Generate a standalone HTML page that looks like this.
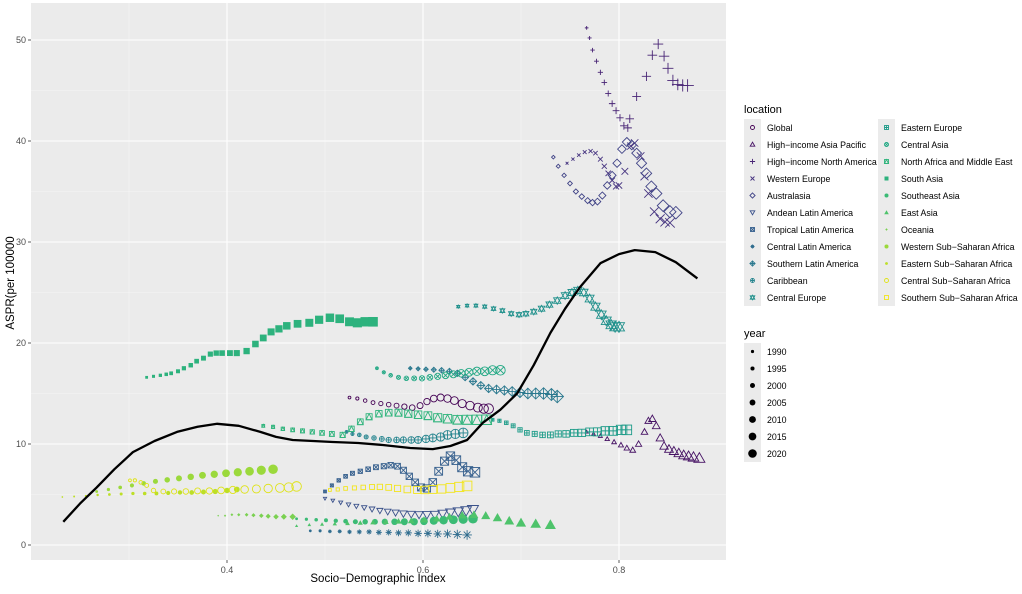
<!DOCTYPE html>
<html><head><meta charset="utf-8">
<style>
body{margin:0;background:#fff;}
svg text{font-family:"Liberation Sans",sans-serif;}
</style></head>
<body>
<svg id="chart" width="1022" height="589" viewBox="0 0 1022 589" xmlns="http://www.w3.org/2000/svg">
<rect x="0" y="0" width="1022" height="589" fill="#fff"/>
<g id="panel"></g>
<g id="marks"></g>
<g id="axes"></g>
<g id="legend"></g>
</svg>
<script>
const xTicks=[0.4,0.6,0.8];
const xMinor=[0.3,0.5,0.7];
const yTicks=[0,10,20,30,40,50];
const yMinor=[5,15,25,35,45];
const locations=["Global","High−income Asia Pacific","High−income North America","Western Europe","Australasia","Andean Latin America","Tropical Latin America","Central Latin America","Southern Latin America","Caribbean","Central Europe","Eastern Europe","Central Asia","North Africa and Middle East","South Asia","Southeast Asia","East Asia","Oceania","Western Sub−Saharan Africa","Eastern Sub−Saharan Africa","Central Sub−Saharan Africa","Southern Sub−Saharan Africa"];
const years=[1990,1995,2000,2005,2010,2015,2020];
const colors=["#440154","#471365","#482475","#463480","#414487","#3B528B","#355F8D","#2F6C8E","#2A788E","#25848E","#21918C","#1E9C89","#22A884","#2FB47C","#2DB27D","#3BBB75","#4EC36B","#7AD151","#9BD93C","#BDDF26","#DFE318","#F2E51D"];
const shapes=["circleOpen","triUp","plus","cross","diamond","triDown","squareX","asterisk","diamondPlus","circlePlus","star","squarePlus","circleX","squareTri","squareFill","circleFill","triFill","diamondFill","circleFill","circleFill","circleOpen","squareOpen"];
const sdi0=[.525,.533,.541,.549,.557,.565,.573,.581,.589,.597,.604,.611,.618,.625,.632,.640,.648,.656,.662,.667];
const asp0=[14.6,14.5,14.3,14.1,14.0,13.9,13.8,13.7,13.6,13.8,14.2,14.5,14.6,14.5,14.3,14.0,13.8,13.6,13.5,13.5];
const sdi1=[.767,.774,.781,.788,.795,.802,.808,.814,.820,.826,.830,.834,.838,.842,.846,.851,.856,.861,.866,.871,.876,.882];
const asp1=[11.2,11.0,10.8,10.5,10.2,9.9,9.6,9.4,10.0,11.2,12.3,12.5,11.8,10.6,9.8,9.5,9.3,9.1,8.9,8.8,8.7,8.6];
const sdi2=[.767,.770,.773,.777,.781,.785,.789,.793,.797,.801,.805,.809,.811,.818,.828,.834,.840,.846,.850,.855,.860,.865,.870];
const asp2=[51.2,50.2,49.0,47.9,46.8,45.8,44.7,43.7,43.0,42.3,41.5,41.3,42.2,44.4,46.4,48.5,49.6,48.4,47.2,46.0,45.6,45.5,45.5];
const sdi3=[.747,.753,.759,.765,.771,.776,.781,.785,.789,.793,.797,.800,.806,.812,.816,.822,.826,.830,.836,.842,.847,.852];
const asp3=[37.8,38.2,38.6,38.9,39.0,38.8,38.2,37.5,36.8,36.1,35.5,35.6,37.0,39.5,39.8,38.5,36.5,34.8,33.0,32.3,32.0,31.9];
const sdi4=[.733,.738,.744,.750,.756,.762,.768,.773,.778,.783,.788,.793,.798,.803,.808,.813,.818,.823,.828,.833,.838,.845,.852,.858];
const asp4=[38.4,37.5,36.6,35.8,35.0,34.5,34.1,33.9,34.0,34.6,35.6,36.6,37.8,39.2,39.9,39.6,38.8,37.8,36.8,35.5,34.8,33.6,33.0,32.9];
const sdi5=[.500,.508,.516,.524,.532,.540,.548,.556,.564,.572,.580,.588,.596,.604,.612,.620,.628,.636,.644,.651];
const asp5=[4.6,4.4,4.2,4.0,3.85,3.7,3.55,3.4,3.3,3.2,3.1,3.05,3.0,3.0,3.0,3.1,3.2,3.3,3.4,3.5];
const sdi6=[.500,.507,.514,.521,.528,.536,.544,.552,.560,.567,.574,.580,.586,.592,.598,.604,.610,.616,.622,.628,.634,.640,.646,.653];
const asp6=[5.3,5.9,6.4,6.8,7.1,7.3,7.5,7.7,7.8,7.9,7.8,7.4,6.8,6.2,5.7,5.6,6.2,7.3,8.3,8.8,8.4,7.7,7.3,7.2];
const sdi7=[.485,.495,.505,.515,.525,.535,.545,.555,.565,.575,.585,.595,.605,.615,.625,.635,.645];
const asp7=[1.4,1.4,1.35,1.35,1.3,1.3,1.3,1.25,1.25,1.2,1.2,1.15,1.15,1.1,1.1,1.05,1.0];
const sdi8=[.587,.595,.603,.611,.619,.627,.635,.643,.651,.659,.667,.675,.683,.691,.699,.707,.715,.723,.731,.737];
const asp8=[17.5,17.45,17.4,17.35,17.3,17.2,17.0,16.6,16.2,15.8,15.5,15.4,15.3,15.2,15.1,15.0,15.0,15.0,14.9,14.7];
const sdi9=[.522,.528,.535,.542,.550,.558,.565,.573,.580,.588,.595,.603,.610,.618,.625,.633,.641];
const asp9=[11.2,11.0,10.9,10.7,10.6,10.5,10.4,10.4,10.4,10.4,10.4,10.5,10.6,10.7,10.9,11.0,11.1];
const sdi10=[.636,.645,.654,.663,.672,.681,.690,.698,.705,.713,.721,.729,.737,.745,.752,.758,.764,.770,.776,.782,.787,.792,.796,.800];
const asp10=[23.6,23.7,23.7,23.6,23.4,23.2,22.9,22.8,22.9,23.1,23.4,23.8,24.2,24.7,25.0,25.2,25.0,24.4,23.6,22.8,22.2,21.8,21.6,21.6];
const sdi11=[.671,.678,.685,.692,.699,.706,.714,.722,.730,.738,.746,.754,.762,.770,.778,.786,.794,.802,.808];
const asp11=[12.4,12.3,12.1,11.8,11.4,11.1,11.0,10.9,10.9,11.0,11.0,11.1,11.1,11.2,11.2,11.3,11.3,11.4,11.4];
const sdi12=[.553,.560,.567,.575,.583,.591,.599,.607,.615,.623,.631,.639,.647,.655,.663,.671,.679];
const asp12=[17.5,17.1,16.8,16.6,16.5,16.5,16.5,16.6,16.7,16.8,16.9,17.0,17.1,17.2,17.2,17.3,17.3];
const sdi13=[.437,.447,.457,.467,.477,.487,.497,.507,.518,.527,.536,.545,.555,.565,.575,.585,.595,.605,.615,.625,.635,.645,.655,.665];
const asp13=[11.8,11.7,11.5,11.4,11.3,11.2,11.1,11.0,10.9,11.5,12.2,12.7,13.0,13.1,13.1,13.0,12.9,12.8,12.6,12.5,12.4,12.4,12.4,12.4];
const sdi14=[.318,.325,.332,.338,.343,.350,.356,.363,.369,.376,.383,.389,.395,.403,.410,.420,.429,.437,.445,.453,.461,.472,.484,.494,.505,.515,.525,.533,.541,.549];
const asp14=[16.6,16.7,16.8,16.9,17.0,17.2,17.5,17.8,18.2,18.5,18.9,19.0,19.0,19.0,19.0,19.2,19.9,20.5,21.1,21.4,21.7,21.9,22.0,22.3,22.5,22.4,22.1,22.0,22.1,22.1];
const sdi15=[.471,.481,.491,.501,.511,.521,.531,.541,.551,.561,.571,.581,.591,.601,.611,.621,.631,.641,.651];
const asp15=[2.6,2.55,2.5,2.45,2.4,2.35,2.3,2.3,2.3,2.3,2.3,2.3,2.3,2.35,2.4,2.45,2.5,2.55,2.6];
const sdi16=[.471,.484,.497,.510,.523,.536,.549,.562,.575,.588,.601,.614,.627,.640,.652,.664,.676,.688,.700,.715,.730];
const asp16=[1.9,2.0,2.05,2.1,2.15,2.2,2.25,2.3,2.35,2.4,2.5,2.6,2.8,2.95,3.0,2.9,2.7,2.4,2.2,2.1,2.0];
const sdi17=[.391,.398,.405,.412,.420,.427,.435,.442,.450,.458,.467];
const asp17=[2.9,2.9,3.0,3.0,3.0,2.95,2.9,2.85,2.8,2.8,2.8];
const sdi18=[.267,.279,.291,.303,.315,.327,.339,.351,.363,.375,.387,.399,.411,.423,.435,.447];
const asp18=[5.3,5.5,5.7,5.9,6.1,6.3,6.45,6.6,6.75,6.9,7.0,7.1,7.2,7.3,7.4,7.5];
const sdi19=[.232,.244,.256,.268,.280,.292,.304,.316,.328,.340,.352,.364,.376,.388,.400,.410];
const asp19=[4.75,4.8,4.85,4.95,5.0,5.05,5.1,5.1,5.1,5.15,5.2,5.2,5.25,5.3,5.4,5.5];
const sdi20=[.301,.306,.312,.318,.325,.335,.346,.358,.370,.382,.394,.406,.418,.430,.442,.454,.463,.471];
const asp20=[6.4,6.4,6.2,5.9,5.4,5.3,5.3,5.3,5.35,5.35,5.4,5.45,5.5,5.55,5.6,5.65,5.7,5.8];
const sdi21=[.505,.513,.521,.530,.539,.548,.556,.565,.574,.584,.594,.602,.610,.619,.628,.637,.645];
const asp21=[5.45,5.5,5.6,5.65,5.7,5.75,5.75,5.7,5.6,5.5,5.45,5.45,5.5,5.55,5.65,5.75,5.85];
const sdiSeries=[sdi0,sdi1,sdi2,sdi3,sdi4,sdi5,sdi6,sdi7,sdi8,sdi9,sdi10,sdi11,sdi12,sdi13,sdi14,sdi15,sdi16,sdi17,sdi18,sdi19,sdi20,sdi21];
const aspSeries=[asp0,asp1,asp2,asp3,asp4,asp5,asp6,asp7,asp8,asp9,asp10,asp11,asp12,asp13,asp14,asp15,asp16,asp17,asp18,asp19,asp20,asp21];
const smoothSdi=[.233,.250,.267,.285,.304,.326,.349,.370,.390,.412,.434,.450,.467,.488,.508,.534,.559,.587,.610,.628,.645,.661,.679,.696,.713,.730,.745,.760,.781,.800,.816,.837,.858,.880];
const smoothAsp=[2.3,4.1,5.7,7.5,9.2,10.3,11.2,11.7,12.0,11.8,11.2,10.7,10.4,10.3,10.2,10.1,9.9,9.6,9.5,9.8,10.4,12.1,13.4,15.0,17.8,21.0,23.4,25.5,27.9,28.8,29.2,29.0,28.0,26.4];

const PL=31,PR=726,PT=3,PB=560;
function xs(v){return 227+(v-0.4)*980;}
function ys(v){return 545-v*10.1;}
const NS="http://www.w3.org/2000/svg";
function el(tag,attrs,parent){const e=document.createElementNS(NS,tag);for(const k in attrs)e.setAttribute(k,attrs[k]);parent.appendChild(e);return e;}

const panel=document.getElementById('panel');
const bg=el('rect',{x:PL,y:PT,width:PR-PL,height:PB-PT,fill:'#ebebeb'},panel);


xMinor.forEach(v=>{const l=el('line',{x1:xs(v),x2:xs(v),y1:PT,y2:PB,stroke:'#f5f5f5','stroke-width':0.6},panel);

});
yMinor.forEach(v=>{const l=el('line',{x1:PL,x2:PR,y1:ys(v),y2:ys(v),stroke:'#f5f5f5','stroke-width':0.6},panel);

});
xTicks.forEach(v=>{const l=el('line',{x1:xs(v),x2:xs(v),y1:PT,y2:PB,stroke:'#fff','stroke-width':1.1},panel);

});
yTicks.forEach(v=>{const l=el('line',{x1:PL,x2:PR,y1:ys(v),y2:ys(v),stroke:'#fff','stroke-width':1.1},panel);

});

function drawShape(g,shape,cx,cy,r,col){
  const sw=0.9;
  const o={fill:'none',stroke:col,'stroke-width':sw};
  const f={fill:col,stroke:'none'};
  const tri=(up)=>{const h=r*1.15;return up?`${cx},${cy-h} ${cx-h},${cy+h*0.75} ${cx+h},${cy+h*0.75}`:`${cx},${cy+h} ${cx-h},${cy-h*0.75} ${cx+h},${cy-h*0.75}`;};
  const dia=`${cx},${cy-r*1.3} ${cx+r*1.3},${cy} ${cx},${cy+r*1.3} ${cx-r*1.3},${cy}`;
  switch(shape){
    case 'circleOpen':el('circle',Object.assign({cx,cy,r},o),g);break;
    case 'circleFill':el('circle',Object.assign({cx,cy,r},f),g);break;
    case 'triUp':el('polygon',Object.assign({points:tri(true)},o),g);break;
    case 'triFill':el('polygon',Object.assign({points:tri(true)},f),g);break;
    case 'triDown':el('polygon',Object.assign({points:tri(false)},o),g);break;
    case 'plus':el('path',Object.assign({d:`M${cx-r*1.3},${cy}H${cx+r*1.3}M${cx},${cy-r*1.3}V${cy+r*1.3}`},o),g);break;
    case 'cross':el('path',Object.assign({d:`M${cx-r},${cy-r}L${cx+r},${cy+r}M${cx-r},${cy+r}L${cx+r},${cy-r}`},o),g);break;
    case 'diamond':el('polygon',Object.assign({points:dia},o),g);break;
    case 'diamondFill':el('polygon',Object.assign({points:`${cx},${cy-r*0.9} ${cx+r*0.9},${cy} ${cx},${cy+r*0.9} ${cx-r*0.9},${cy}`},f),g);break;
    case 'squareX':el('rect',Object.assign({x:cx-r,y:cy-r,width:2*r,height:2*r},o),g);el('path',Object.assign({d:`M${cx-r},${cy-r}L${cx+r},${cy+r}M${cx-r},${cy+r}L${cx+r},${cy-r}`},o),g);break;
    case 'asterisk':el('path',Object.assign({d:`M${cx-r},${cy}H${cx+r}M${cx},${cy-r}V${cy+r}M${cx-r*.7},${cy-r*.7}L${cx+r*.7},${cy+r*.7}M${cx-r*.7},${cy+r*.7}L${cx+r*.7},${cy-r*.7}`},o),g);break;
    case 'diamondPlus':el('polygon',Object.assign({points:dia},o),g);el('path',Object.assign({d:`M${cx-r*1.3},${cy}H${cx+r*1.3}M${cx},${cy-r*1.3}V${cy+r*1.3}`},o),g);break;
    case 'circlePlus':el('circle',Object.assign({cx,cy,r},o),g);el('path',Object.assign({d:`M${cx-r},${cy}H${cx+r}M${cx},${cy-r}V${cy+r}`},o),g);break;
    case 'circleX':el('circle',Object.assign({cx,cy,r},o),g);el('path',Object.assign({d:`M${cx-r*.7},${cy-r*.7}L${cx+r*.7},${cy+r*.7}M${cx-r*.7},${cy+r*.7}L${cx+r*.7},${cy-r*.7}`},o),g);break;
    case 'star':el('polygon',Object.assign({points:tri(true)},o),g);el('polygon',Object.assign({points:tri(false)},o),g);break;
    case 'squarePlus':el('rect',Object.assign({x:cx-r,y:cy-r,width:2*r,height:2*r},o),g);el('path',Object.assign({d:`M${cx-r},${cy}H${cx+r}M${cx},${cy-r}V${cy+r}`},o),g);break;
    case 'squareTri':el('rect',Object.assign({x:cx-r,y:cy-r,width:2*r,height:2*r},o),g);el('polygon',Object.assign({points:`${cx},${cy-r} ${cx-r},${cy+r} ${cx+r},${cy+r}`},o),g);break;
    case 'squareFill':el('rect',Object.assign({x:cx-r,y:cy-r,width:2*r,height:2*r},f),g);break;
    case 'squareOpen':el('rect',Object.assign({x:cx-r,y:cy-r,width:2*r,height:2*r},o),g);break;
  }
}
function sizeFactor(shape){return {diamondFill:0.75}[shape]||1;}

const marks=document.getElementById('marks');
sdiSeries.forEach((xsArr,si)=>{
  const g=el('g',{},marks);
  
  
  const ys_=aspSeries[si];const n=xsArr.length;
  let small=(si===19)?0.6:1;
  xsArr.forEach((v,i)=>{
    const t=i/(n-1);
    const r=(1.4+3.4*t)*small*sizeFactor(shapes[si]);
    const p=el('g',{},g);
    
    
    drawShape(p,shapes[si],xs(v),ys(ys_[i]),r,colors[si]);
  });
});
let d='';smoothSdi.forEach((v,i)=>{d+=(i?'L':'M')+xs(v).toFixed(1)+','+ys(smoothAsp[i]).toFixed(1);});
const sm=el('path',{d,fill:'none',stroke:'#000','stroke-width':2.3,'stroke-linejoin':'round'},marks);



const axes=document.getElementById('axes');
xTicks.forEach(v=>{
  const t=el('line',{x1:xs(v),x2:xs(v),y1:PB,y2:PB+3,stroke:'#333','stroke-width':0.8},axes);
  
  
  const tx=el('text',{x:xs(v),y:PB+13,'font-size':9,fill:'#4d4d4d','text-anchor':'middle'},axes);
  tx.textContent=v.toFixed(1);
  
  
});
yTicks.forEach(v=>{
  const t=el('line',{x1:PL-3,x2:PL,y1:ys(v),y2:ys(v),stroke:'#333','stroke-width':0.8},axes);
  
  
  const tx=el('text',{x:PL-5,y:ys(v)+3,'font-size':9,fill:'#4d4d4d','text-anchor':'end'},axes);
  tx.textContent=v;
  
  
});
const xt=el('text',{x:378,y:582,'font-size':11.5,fill:'#000','text-anchor':'middle'},axes);
xt.textContent='Socio−Demographic Index';


const yt=el('text',{x:14,y:283,'font-size':11.5,fill:'#000','text-anchor':'middle',transform:'rotate(-90 14 283)'},axes);
yt.textContent='ASPR(per 100000';



const lg=document.getElementById('legend');
const lt=el('text',{x:744,y:113,'font-size':11,fill:'#000'},lg);
lt.textContent='location';


locations.forEach((name,i)=>{
  const col=i<11?0:1, row=i%11;
  const kx=col?878:744, ky=119+row*17;
  const e=el('g',{},lg);
  
  
  el('rect',{x:kx,y:ky,width:17,height:17,fill:'#ebebeb'},e);
  drawShape(e,shapes[i],kx+8.5,ky+8.5,(i===19||i===17)?1.4:2,colors[i]);
  const tx=el('text',{x:kx+23,y:ky+12,'font-size':8.8,fill:'#000'},e);
  tx.textContent=name;
});
const yl=el('text',{x:744,y:337,'font-size':11,fill:'#000'},lg);
yl.textContent='year';


years.forEach((yr,i)=>{
  const ky=343+i*17;
  const e=el('g',{},lg);
  
  
  el('rect',{x:744,y:ky,width:17,height:17,fill:'#ebebeb'},e);
  el('circle',{cx:752.5,cy:ky+8.5,r:1.6+i*0.45,fill:'#000'},e);
  const tx=el('text',{x:767,y:ky+12,'font-size':8.8,fill:'#000'},e);
  tx.textContent=yr;
});
</script>
</body></html>
